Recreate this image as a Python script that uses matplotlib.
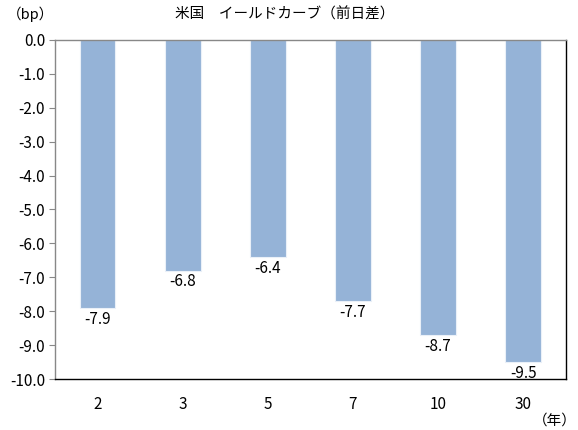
import matplotlib.pyplot as plt
import numpy as np

plt.rcParams['font.family'] = ['Noto Sans CJK JP', 'DejaVu Sans']

maturities = ['2', '3', '5', '7', '10', '30']
change_bp = [-7.9, -6.8, -6.4, -7.7, -8.7, -9.5]

fig = plt.figure(figsize=(5.78, 4.3), dpi=100)
ax = fig.add_axes([0.095, 0.1186, 0.884, 0.7884])

x = np.arange(len(maturities))
bars = ax.bar(x, change_bp, width=0.42, color='#95b3d7', edgecolor='#eaf0f8', linewidth=0.8, zorder=2)

for xi, v in zip(x, change_bp):
    ax.annotate(f'{v:.1f}', (xi, v), xytext=(0, -2), textcoords='offset points',
                ha='center', va='top', fontsize=11, color='black')

ax.set_ylim(-10, 0)
ax.set_xlim(-0.5, len(maturities) - 0.5)
ax.set_yticks(np.arange(-10, 0.1, 1.0))
ax.set_yticklabels([f'{t:.1f}' for t in np.arange(-10, 0.1, 1.0)], fontsize=11)
ax.set_xticks(x)
ax.set_xticklabels(maturities, fontsize=11)
ax.tick_params(axis='x', length=0, pad=12)
ax.tick_params(axis='y', length=4, color='#888888', direction='out', pad=3)

ax.spines['left'].set_color('#888888')
ax.spines['top'].set_color('#888888')
ax.spines['bottom'].set_color('black')
ax.spines['right'].set_color('black')
for s in ax.spines.values():
    s.set_linewidth(1.0)

fig.text(0.012, 0.967, '（bp）', fontsize=10.5, va='center', ha='left')
fig.text(0.493, 0.967, '米国　イールドカーブ（前日差）', fontsize=10.5, va='center', ha='center')
fig.text(0.998, 0.023, '（年）', fontsize=10.5, va='center', ha='right')

fig.savefig('out.png', dpi=100)
